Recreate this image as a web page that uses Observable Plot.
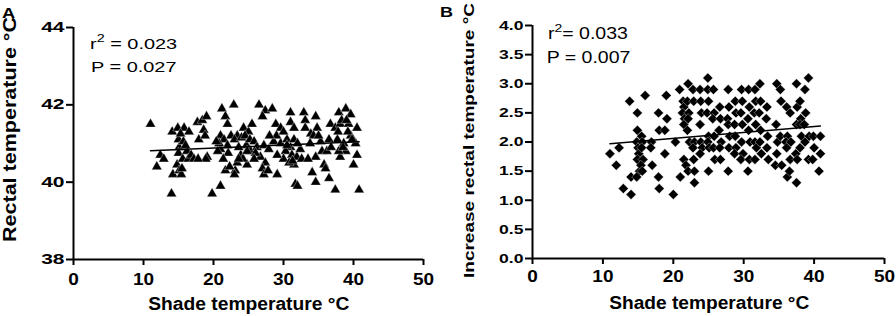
<!DOCTYPE html>
<html><head><meta charset="utf-8">
<script src="https://cdn.jsdelivr.net/npm/d3@7"></script>
<script src="https://cdn.jsdelivr.net/npm/@observablehq/plot@0.6"></script>
<style>
body{margin:0;background:#fff;}
#wrap{position:relative;width:896px;height:316px;overflow:hidden;}
#wrap svg{position:absolute;top:0;}
</style></head><body><div id="wrap"></div>
<script>
// ---------- Panel A data: shade temperature (°C) vs rectal temperature (°C)
const aShade = [
 11.0, 11.9, 12.4, 12.9, 14.1, 14.2, 14.0, 14.9,
 15.8, 15.0, 15.1, 15.0, 14.8, 15.1, 15.4, 15.6,
 16.2, 15.7, 16.4, 15.3, 16.0, 16.8, 17.2, 17.7,
 18.4, 18.6, 17.9, 19.1, 18.9, 17.8, 19.0, 18.8,
 21.2, 22.9, 21.7, 22.0, 21.0, 21.5, 22.0, 21.0,
 22.1, 21.7, 23.1, 23.0, 21.0, 19.8, 23.4, 23.9,
 24.8, 23.4, 24.3, 25.0, 24.7, 20.6, 20.8, 21.4,
 22.5, 23.0, 23.6, 24.0, 24.5, 25.2, 25.5, 25.3,
 24.2, 26.5, 27.4, 28.4, 27.0, 25.8, 26.2, 27.2,
 27.9, 28.6, 29.6, 30.5, 31.0, 30.3, 31.2, 31.9,
 30.0, 26.7, 27.4, 29.1, 32.4, 27.0, 27.2, 29.1,
 31.5, 34.1, 34.6, 35.5, 35.8, 36.0, 38.1, 38.9,
 37.9, 40.5, 40.0, 40.3, 31.7, 32.0, 34.6, 36.5,
 37.4, 40.8, 31.0, 32.9, 34.6, 37.9, 38.9, 39.6,
 28.9, 29.6, 31.0, 31.5, 33.1, 33.1, 34.8, 36.7,
 37.4, 38.1, 39.3, 40.5, 33.9, 34.3, 37.7, 39.6,
 38.6, 35.3, 36.5, 29.0, 30.0, 31.5, 32.0, 32.6,
 30.8, 31.3, 28.0, 26.0, 25.8, 27.8, 33.5, 36.2,
 36.8, 37.8, 38.3, 39.2, 39.8, 38.5, 39.0, 35.0,
 33.8, 30.5, 24.8, 23.6, 22.3, 16.5, 15.5, 20.4
];
const aRectal = [
 41.5, 40.4, 40.7, 40.6, 41.3, 40.2, 39.7, 41.4,
 41.4, 41.1, 40.9, 40.75, 40.45, 40.3, 40.2, 40.6,
 40.8, 41.05, 40.6, 41.25, 40.95, 40.7, 40.6, 41.55,
 41.6, 41.35, 41.1, 40.65, 40.6, 40.6, 41.7, 41.2,
 41.9, 42.0, 41.7, 41.5, 41.2, 41.1, 40.95, 40.85,
 40.75, 40.3, 40.3, 40.2, 39.9, 39.7, 40.5, 40.7,
 40.45, 41.2, 41.4, 41.3, 40.95, 40.8, 41.0, 40.6,
 41.2, 41.1, 40.9, 41.15, 41.2, 41.1, 41.5, 40.8,
 40.6, 42.0, 41.85, 41.9, 41.7, 41.05, 40.9, 40.95,
 40.85, 41.05, 41.0, 41.1, 40.9, 40.8, 40.7, 40.65,
 40.6, 40.65, 40.5, 40.7, 40.85, 40.35, 40.2, 40.2,
 40.45, 40.25, 40.65, 40.8, 40.45, 40.35, 40.65, 40.8,
 40.8, 40.7, 40.45, 41.0, 39.95, 39.9, 40.0, 40.1,
 39.8, 39.8, 41.8, 41.8, 41.7, 41.8, 41.9, 41.75,
 41.5, 41.4, 41.55, 41.4, 41.6, 41.4, 41.4, 41.5,
 41.4, 41.5, 41.5, 41.4, 41.25, 41.2, 41.1, 41.2,
 41.0, 41.05, 41.1, 41.2, 41.3, 41.1, 41.0, 40.6,
 40.5, 40.55, 41.2, 40.75, 40.6, 40.3, 40.6, 40.8,
 40.9, 41.3, 41.6, 41.3, 41.1, 40.9, 41.6, 41.2,
 41.0, 40.95, 40.8, 40.6, 40.4, 41.3, 40.35, 41.05
];

// ---------- Panel B data: shade temperature (°C) vs increase in rectal temperature (°C)
const bShade = [
 11.0,
 11.9,
 12.3,
 12.9,
 13.8,
 14.0,14.0,
 14.9,14.9,14.8,15.0,15.1,14.9,15.2,14.8,
 15.5,15.6,15.5,15.7,15.4,15.6,
 16.0,
 16.9,16.8,17.0,
 17.9,18.0,17.9,18.0,
 18.8,18.8,
 19.0,19.1,
 20.0,20.3,
 20.9,21.0,
 21.4,21.5,21.3,21.6,21.5,21.5,21.8,
 22.1,22.0,22.2,22.1,22.0,22.3,22.1,
 22.8,22.9,23.0,22.8,22.9,23.0,23.0,
 23.8,23.9,24.0,23.8,23.9,24.1,23.8,
 24.9,24.9,25.0,24.8,25.0,24.9,25.1,25.0,
 25.7,25.8,25.6,25.8,25.7,25.9,
 26.6,26.7,26.5,26.8,26.6,26.7,
 27.8,27.9,27.7,27.8,28.0,27.9,27.8,
 28.8,28.9,28.7,28.8,28.9,28.7,
 29.7,29.8,29.6,29.8,29.7,29.9,29.6,
 30.7,30.8,30.6,30.7,30.9,30.8,30.6,
 31.6,31.7,31.5,31.7,31.6,31.8,31.6,
 32.3,32.4,32.2,32.4,32.3,32.5,
 33.3,33.2,33.4,33.3,33.5,
 34.7,34.6,34.8,34.7,34.5,
 35.2,35.3,35.2,35.4,
 36.1,36.2,36.0,36.1,36.2,
 36.6,36.7,36.6,36.5,
 37.5,37.6,37.5,37.4,37.6,37.5,
 38.0,38.1,38.0,38.2,38.0,
 38.7,38.8,38.6,38.7,
 39.2,39.3,39.2,
 39.9,40.0,39.8,
 40.9,40.9,40.7
];
const bIncrease = [
 1.8,
 1.6,
 1.9,
 1.2,
 2.7,
 1.4,1.1,
 2.5,2.2,2.0,1.9,1.8,1.7,1.5,1.4,
 2.1,2.0,1.9,1.7,1.6,1.5,
 2.8,
 2.0,1.9,1.6,
 2.5,2.2,1.4,1.2,
 2.2,1.8,
 2.8,2.4,
 1.1,2.0,
 2.9,1.4,
 2.7,2.6,2.5,2.4,2.3,1.7,1.6,
 3.0,2.7,2.5,2.4,2.2,2.0,1.5,
 2.9,2.7,2.0,1.9,1.7,1.5,1.3,
 2.9,2.7,2.5,2.3,2.0,1.9,1.8,
 3.1,2.9,2.7,2.5,2.1,2.0,1.9,1.5,
 2.9,2.5,2.4,2.1,1.9,1.7,
 2.6,2.4,2.2,2.0,1.9,1.7,
 2.9,2.6,2.4,2.3,2.1,1.9,1.5,
 2.7,2.5,2.3,2.1,1.9,1.8,
 2.9,2.7,2.5,2.3,2.0,1.8,1.7,
 2.9,2.6,2.4,2.2,2.0,1.7,1.5,
 2.9,2.7,2.5,2.3,2.0,1.9,1.7,
 3.0,2.7,2.5,2.2,2.0,1.8,
 2.6,2.4,2.1,1.9,1.7,
 3.0,2.3,2.0,1.8,1.6,
 2.9,2.7,2.1,1.6,
 2.6,2.1,2.0,1.9,1.4,
 2.5,2.0,1.7,1.5,
 3.0,2.6,2.3,1.8,1.7,1.3,
 2.7,2.4,2.3,2.1,1.9,
 2.9,2.5,2.3,2.0,
 3.1,2.1,1.7,
 2.1,1.9,1.7,
 2.1,1.8,1.5
];

// ---------- Ticks, labels and statistics text
const xTicks = [0, 10, 20, 30, 40, 50];
const aYTicks = [38, 40, 42, 44];
const bYTicks = [0, 0.5, 1, 1.5, 2, 2.5, 3, 3.5, 4];
const xTitle = "Shade temperature °C";
const aYTitle = "Rectal temperature °C";
const bYTitle = "Increase rectal temperature °C";
const panelLetters = ["A", "B"];
const aStats = [["r", "2", " = 0.023"], ["P = 0.027"]];
const bStats = [["r", "2", "= 0.033"], ["P = 0.007"]];

const FONT = '"Liberation Sans", Arial, Helvetica, sans-serif';
const wrap = document.getElementById("wrap");

function styleTicks(svg, axis, size, factor) {
  svg.querySelectorAll("g[aria-label]").forEach(g => {
    const lab = g.getAttribute("aria-label");
    if (!(lab.startsWith(axis + "-axis") && lab.includes("label"))) return;
    g.setAttribute("font-size", size);
    g.setAttribute("font-weight", "bold");
    g.setAttribute("font-family", FONT);
    g.querySelectorAll("text").forEach(el => {
      el.style.fontSize = size + "px";
      el.style.fontWeight = "700";
      el.style.fontFamily = FONT;
      el.style.fill = "#000";
      if (factor !== 1) {
        const w = el.getComputedTextLength();
        el.setAttribute("textLength", (w * factor).toFixed(2));
        el.setAttribute("lengthAdjust", "spacingAndGlyphs");
      }
    });
  });
}

function addText(svg, {x, y, text, size, weight = "normal", sx = 1, rotate = 0, anchor = "start", length = null}) {
  const t = d3.select(svg).append("text")
    .attr("transform", `translate(${x},${y}) rotate(${rotate}) scale(${sx},1)`)
    .attr("font-family", FONT).attr("font-size", size).attr("font-weight", weight)
    .attr("text-anchor", anchor).attr("fill", "#000").text(text);
  if (length) t.attr("textLength", length).attr("lengthAdjust", "spacingAndGlyphs");
  return t;
}

function addStat(svg, x, y, parts, size, sx) {
  const t = d3.select(svg).append("text")
    .attr("transform", `translate(${x},${y}) scale(${sx},1)`)
    .attr("text-anchor", "start")
    .attr("font-family", FONT).attr("font-size", size).attr("fill", "#000");
  if (parts.length === 1) { t.text(parts[0]); return; }
  t.append("tspan").text(parts[0]);
  t.append("tspan").attr("font-size", size * 0.72).attr("dy", -size * 0.45).text(parts[1]);
  t.append("tspan").attr("dy", size * 0.45).text(parts[2]);
}

function panel(cfg) {
  const pts = cfg.xs.map((x, i) => ({x, y: cfg.ys[i]}));
  const svg = Plot.plot({
    width: cfg.width, height: 316,
    marginLeft: cfg.ml, marginRight: cfg.mr, marginTop: cfg.mt, marginBottom: cfg.mb,
    style: {fontFamily: FONT, background: "transparent", overflow: "visible", color: "#000"},
    x: {domain: [0, 50]},
    y: {domain: cfg.yDomain},
    marks: [
      Plot.dot(pts, {x: "x", y: "y", symbol: cfg.symbol, r: cfg.r, fill: "#000", stroke: "#fff", strokeWidth: 0.35}),
      Plot.linearRegressionY(pts, {x: "x", y: "y", ci: 0, stroke: "#000", strokeWidth: 1.5}),
      Plot.ruleX([0], {strokeWidth: 2}),
      Plot.ruleY([cfg.yDomain[0]], {strokeWidth: 2}),
      Plot.axisX({ticks: xTicks, tickSize: 6, tickPadding: cfg.xPad, strokeWidth: 2, fontSize: 16.5, fontWeight: "bold", label: null, tickFormat: d3.format("d")}),
      Plot.axisY({ticks: cfg.yTicks, tickSize: 7, tickPadding: 2, strokeWidth: 2, fontSize: cfg.yFont, fontWeight: "bold", label: null, tickFormat: cfg.yFormat})
    ]
  });
  svg.style.left = cfg.left + "px";
  wrap.appendChild(svg);
  styleTicks(svg, "x", 16.5, 1.15);
  styleTicks(svg, "y", cfg.yFont, cfg.yStretch);
  return svg;
}

// Panel A
const svgA = panel({
  left: 0, width: 440, ml: 73, mr: 17, mt: 27, mb: 57,
  xs: aShade, ys: aRectal, yDomain: [38, 44], yTicks: aYTicks, yFormat: d3.format("d"),
  symbol: "triangle", r: 3.8, yFont: 14, yStretch: 1.5, xPad: 8
});
addText(svgA, {x: 2, y: 18, text: panelLetters[0], size: 14.5, weight: "bold", sx: 1.25});
addText(svgA, {x: 15.5, y: 129.5, text: aYTitle, size: 18.5, weight: "bold", rotate: -90, anchor: "middle", length: 225});
addText(svgA, {x: 248.8, y: 310, text: xTitle, size: 17.5, weight: "bold", anchor: "middle", length: 201});
addStat(svgA, 90, 49, aStats[0], 15, 1.33);
addStat(svgA, 91, 72.3, aStats[1], 15, 1.33);

// Panel B
const svgB = panel({
  left: 440, width: 456, ml: 92, mr: 12, mt: 25, mb: 58,
  xs: bShade, ys: bIncrease, yDomain: [0, 4], yTicks: bYTicks, yFormat: d3.format(".1f"),
  symbol: "diamond2", r: 4.5, yFont: 13.5, yStretch: 1.3, xPad: 6
});
addText(svgB, {x: 0, y: 17, text: panelLetters[1], size: 15, weight: "bold", sx: 1.2});
addText(svgB, {x: 34, y: 140.5, text: bYTitle, size: 14.5, weight: "bold", rotate: -90, anchor: "middle", length: 275});
addText(svgB, {x: 269.3, y: 308.5, text: xTitle, size: 17.5, weight: "bold", anchor: "middle", length: 200});
addStat(svgB, 108, 39.3, bStats[0], 16, 1.22);
addStat(svgB, 106.7, 62.7, bStats[1], 16, 1.22);
</script>
</body></html>
